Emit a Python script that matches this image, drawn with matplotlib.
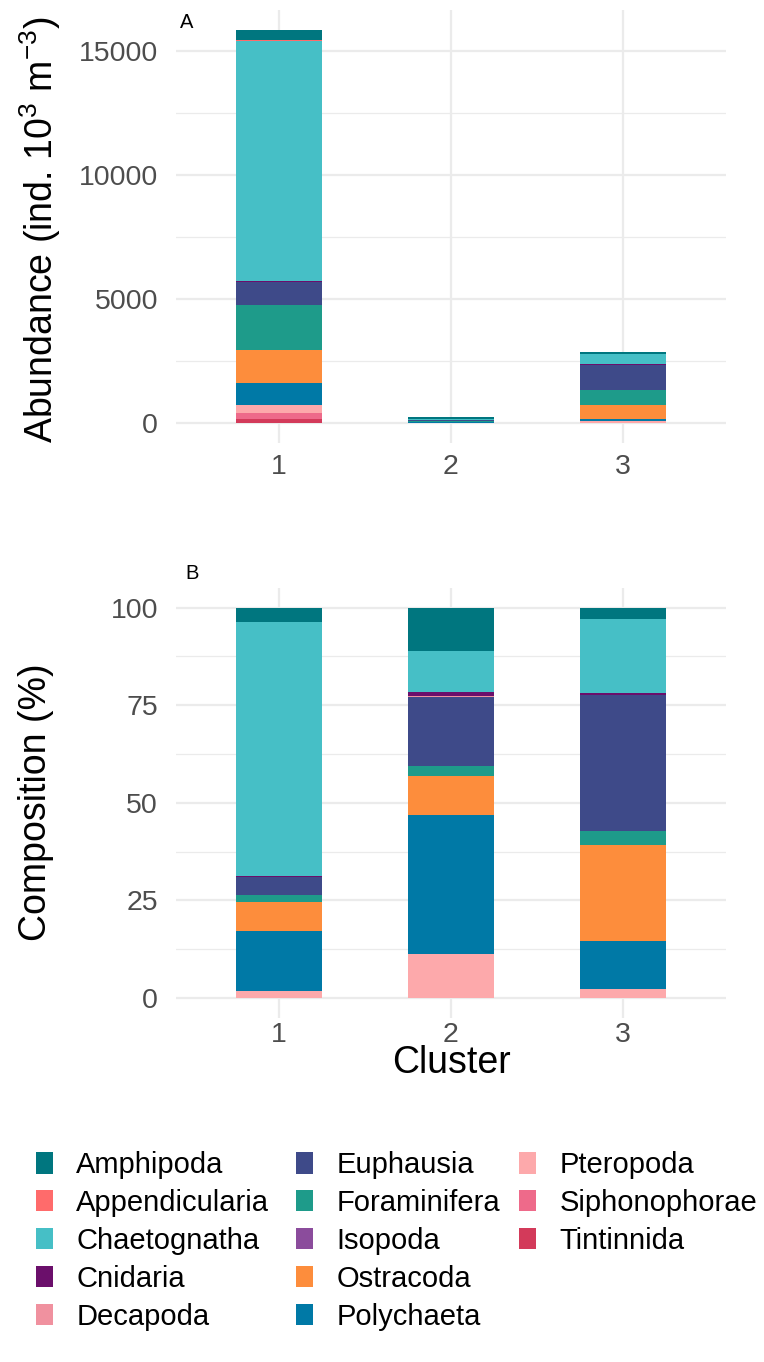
import matplotlib
matplotlib.use("Agg")
import matplotlib.pyplot as plt
from matplotlib.patches import Patch
from matplotlib.ticker import MultipleLocator, FuncFormatter
import numpy as np

plt.rcParams["font.family"] = ["Liberation Sans", "DejaVu Sans"]

clusters = ["1", "2", "3"]
taxa = ["Amphipoda", "Appendicularia", "Chaetognatha", "Cnidaria", "Decapoda",
        "Euphausia", "Foraminifera", "Isopoda", "Ostracoda", "Polychaeta",
        "Pteropoda", "Siphonophorae", "Tintinnida"]
colors = ["#00767F", "#FF6B6B", "#46BFC6", "#6B0F6B", "#F0919F",
          "#3E4A89", "#1E9B8A", "#8B4C9C", "#FD8D3C", "#0079A6",
          "#FDA9AB", "#EE6A8A", "#D33A5A"]

# mean abundance per cluster (ind. 10^3 m^-3)
abund_amphipoda = [430, 90, 65]
abund_appendicularia = [15, 0, 0]
abund_chaetognatha = [9690, 45, 430]
abund_cnidaria = [40, 3, 8]
abund_decapoda = [0, 1, 0]
abund_euphausia = [930, 45, 1040]
abund_foraminifera = [1815, 35, 580]
abund_isopoda = [0, 0, 0]
abund_ostracoda = [1318, 12, 580]
abund_polychaeta = [911, 30, 90]
abund_pteropoda = [323, 5, 80]
abund_siphonophorae = [218, 0, 0]
abund_tintinnida = [185, 0, 0]

# mean relative composition per cluster (%)
comp_amphipoda = [3.7, 11.2, 3.0]
comp_appendicularia = [0.1, 0.0, 0.0]
comp_chaetognatha = [65.0, 10.5, 19.0]
comp_cnidaria = [0.3, 1.0, 0.3]
comp_decapoda = [0.0, 0.3, 0.0]
comp_euphausia = [4.6, 17.6, 34.9]
comp_foraminifera = [1.6, 2.5, 3.7]
comp_isopoda = [0.0, 0.0, 0.0]
comp_ostracoda = [7.5, 10.1, 24.4]
comp_polychaeta = [15.5, 35.5, 12.5]
comp_pteropoda = [1.7, 11.3, 2.2]
comp_siphonophorae = [0.0, 0.0, 0.0]
comp_tintinnida = [0.0, 0.0, 0.0]

abundance = [abund_amphipoda, abund_appendicularia, abund_chaetognatha, abund_cnidaria,
             abund_decapoda, abund_euphausia, abund_foraminifera, abund_isopoda,
             abund_ostracoda, abund_polychaeta, abund_pteropoda, abund_siphonophorae,
             abund_tintinnida]
composition = [comp_amphipoda, comp_appendicularia, comp_chaetognatha, comp_cnidaria,
               comp_decapoda, comp_euphausia, comp_foraminifera, comp_isopoda,
               comp_ostracoda, comp_polychaeta, comp_pteropoda, comp_siphonophorae,
               comp_tintinnida]

W, H = 764, 1362
fig = plt.figure(figsize=(W / 100, H / 100), dpi=100)


def px_rect(left, top, right, bottom):
    return [left / W, 1 - bottom / H, (right - left) / W, (bottom - top) / H]


GRID = "#EBEBEB"
TICK_COLOR = "#4D4D4D"
x = np.arange(1, len(clusters) + 1)


def stacked(ax, table):
    # first taxon sits on top of the stack, last one at the base
    bottom = np.zeros(len(clusters))
    for name, col, vals in reversed(list(zip(taxa, colors, table))):
        vals = np.asarray(vals, dtype=float)
        ax.bar(x, vals, width=0.5, bottom=bottom, color=col, linewidth=0, zorder=3)
        bottom += vals
    return bottom


def style(ax, major, minor, ylim, xpad):
    ax.set_xlim(0.4, 3.6)
    ax.set_ylim(*ylim)
    ax.set_xticks(x)
    ax.set_xticklabels(clusters)
    ax.yaxis.set_major_locator(MultipleLocator(major))
    ax.yaxis.set_minor_locator(MultipleLocator(minor))
    ax.yaxis.set_major_formatter(FuncFormatter(lambda v, p: f"{v:.0f}"))
    for s in ax.spines.values():
        s.set_visible(False)
    ax.grid(True, which="major", color=GRID, linewidth=1.6, zorder=0)
    ax.grid(True, which="minor", axis="y", color=GRID, linewidth=0.9, zorder=0)
    ax.tick_params(which="both", length=0, labelsize=20.5, labelcolor=TICK_COLOR)
    ax.tick_params(axis="y", pad=13)
    ax.tick_params(axis="x", pad=xpad)
    ax.set_axisbelow(True)


axA = fig.add_axes(px_rect(176, 10, 726, 443))
totA = stacked(axA, abundance)
topA = totA.max()
style(axA, 5000, 2500, (-0.05 * topA, 1.05 * topA), 8)

axB = fig.add_axes(px_rect(176, 588, 726, 1017.5))
stacked(axB, composition)
style(axB, 25, 12.5, (-5, 105), 3)

fig.text(40 / W, 1 - 230 / H, r"Abundance (ind. $\mathregular{10^3}$ $\mathregular{m^{-3}}$)",
         rotation=90, ha="center", va="center", fontsize=27)
fig.text(36 / W, 1 - 802 / H, "Composition (%)", rotation=90, ha="center",
         va="center", fontsize=27)
fig.text(451 / W, 1 - 1063 / H, "Cluster", ha="center", va="center", fontsize=27)
fig.text(180 / W, 1 - 23 / H, "A", ha="left", va="center", fontsize=14.5)
fig.text(185 / W, 1 - 574 / H, "B", ha="left", va="center", fontsize=14.5)

handles = [Patch(facecolor=c, edgecolor="none") for c in colors]
columns = [(0, 5, 36), (5, 10, 296), (10, 13, 519)]
for start, stop, left in columns:
    fig.legend(handles[start:stop], taxa[start:stop], loc="upper left",
               bbox_to_anchor=(left / W, 1 - 1151 / H), frameon=False,
               fontsize=21, handlelength=0.58, handleheight=0.75,
               handletextpad=0.8, labelspacing=0.34, borderpad=0,
               borderaxespad=0)

fig.savefig("out.png", dpi=100)
